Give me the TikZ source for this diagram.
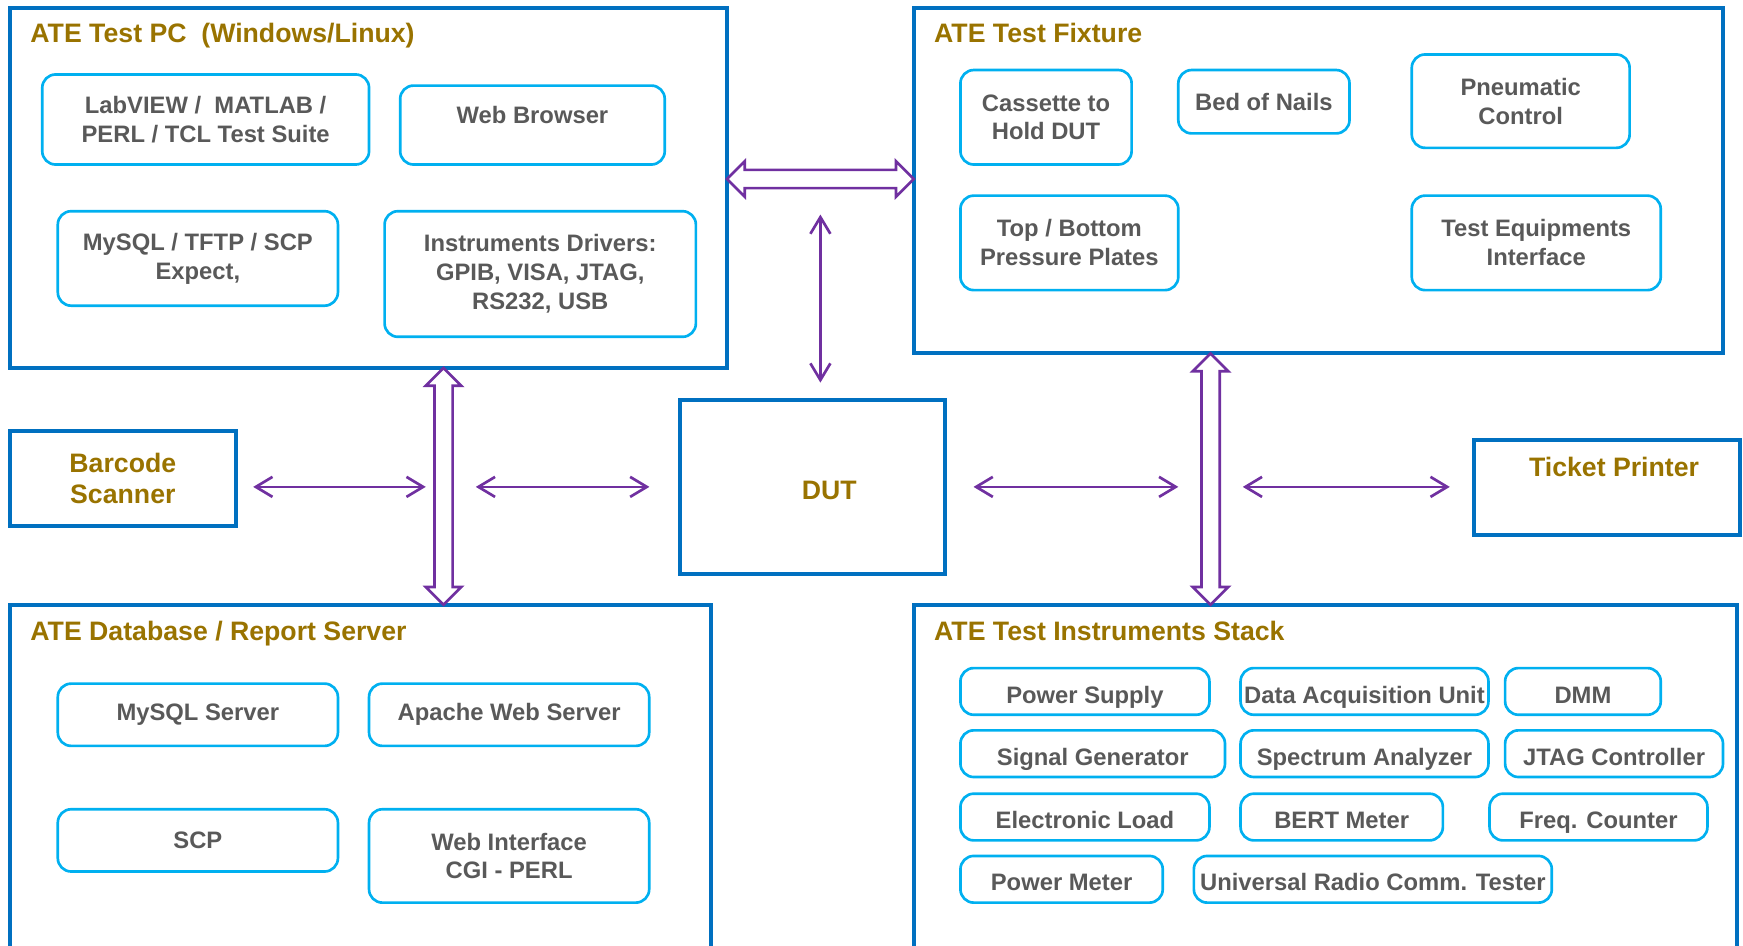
\documentclass[tikz,border=0pt]{standalone}
\usepackage{fontspec}
\setmainfont{Liberation Sans}
\usetikzlibrary{arrows.meta, shapes.arrows, fit}

\definecolor{boxblue}{HTML}{0070C0}
\definecolor{subcyan}{HTML}{00B0F0}
\definecolor{titlegold}{HTML}{997300}
\definecolor{textgray}{HTML}{595959}
\definecolor{arrowpurple}{HTML}{7030A0}

\begin{document}
\begin{tikzpicture}[x=0.5pt, y=-0.5pt,
    outer/.style={draw=boxblue, line width=1.8pt, inner sep=0pt},
    sub/.style={draw=subcyan, line width=1.2pt, rounded corners=6pt, inner sep=0pt, align=center, text=textgray, font=\fontsize{10.7}{13}\selectfont\bfseries},
    rowbox/.style={sub, minimum height=21pt, text height=10.5pt, text depth=0pt},
    subtext/.style={text=textgray, font=\fontsize{10.7}{13}\selectfont\bfseries, inner sep=0pt},
    heading/.style={text=titlegold, font=\fontsize{12}{14}\selectfont\bfseries, inner sep=0pt, align=center},
    title/.style={heading, anchor=base west},
    bus/.style={double arrow, draw=arrowpurple, line width=1.2pt, inner sep=3.5pt, double arrow head extend=3.9pt, minimum width=0pt},
    link/.style={draw=arrowpurple, line width=1.2pt, <->},
    >={Straight Barb[length=7.5pt, width=9pt]}]
    \useasboundingbox (0,0) rectangle (1568,851);
    \clip (0,0) rectangle (1568,851);

    % test PC
    \node[outer, fit={(9,7) (654,331)}] (pc) {};
    \node[title] (pctitle) at (27,38.5) {ATE Test PC~ (Windows/Linux)};
    \node[sub, minimum width=147pt, minimum height=40.5pt] (suite) at (185,107.5) {LabVIEW /~ MATLAB /\\PERL / TCL Test Suite};
    \node[sub, minimum width=119pt, minimum height=35.5pt, label={[subtext, anchor=north, yshift=-9.5pt]north:Web Browser}] (browser) at (479,112.5) {};
    \node[sub, minimum width=126pt, minimum height=42.5pt] (tools) at (178,232.5) {MySQL / TFTP / SCP\\Expect,};
    \node[sub, minimum width=140pt, minimum height=56.5pt] (drivers) at (486,246.5) {Instruments Drivers:\\GPIB, VISA, JTAG,\\RS232, USB};

    % test fixture
    \node[outer, fit={(822,7) (1550,318)}] (fixture) {};
    \node[title] (fixtitle) at (840,38.5) {ATE Test Fixture};
    \node[sub, minimum width=77pt, minimum height=42.5pt] (cassette) at (941,105.5) {Cassette to\\Hold DUT};
    \node[sub, minimum width=77pt, minimum height=28.5pt] (nails) at (1137,91.5) {Bed of Nails};
    \node[sub, minimum width=98pt, minimum height=42pt] (pneumatic) at (1368,91) {Pneumatic\\Control};
    \node[sub, minimum width=98pt, minimum height=42.5pt] (plates) at (962,218.5) {Top / Bottom\\Pressure Plates};
    \node[sub, minimum width=112pt, minimum height=42.5pt] (equip) at (1382,218.5) {Test Equipments\\Interface};

    % database / report server
    \node[outer, fit={(9,544) (640,870)}] (db) {};
    \node[title] (dbtitle) at (27,576.5) {ATE Database / Report Server};
    \node[sub, minimum width=126pt, minimum height=28pt] (mysql) at (178,643) {MySQL Server};
    \node[sub, minimum width=126pt, minimum height=28pt] (apache) at (458,643) {Apache Web Server};
    \node[sub, minimum width=126pt, minimum height=28pt] (scp) at (178,756) {SCP};
    \node[sub, minimum width=126pt, minimum height=42pt] (cgi) at (458,770) {Web Interface\\CGI - PERL};

    % instruments stack
    \node[outer, fit={(822,544) (1563,870)}] (stack) {};
    \node[title] (stacktitle) at (840,576.5) {ATE Test Instruments Stack};
    \foreach \xa/\xb/\ya/\name/\txt in {864/1088/601/psu/Power Supply, 1116/1339/601/daq/Data Acquisition Unit, 1354/1494/601/dmm/DMM,
        864/1102/657/siggen/Signal Generator, 1116/1339/657/spectrum/Spectrum Analyzer, 1354/1550/657/jtag/JTAG Controller,
        864/1088/714/eload/Electronic Load, 1116/1298/714/bert/BERT Meter, 1340/1536/714/counter/Freq. Counter,
        864/1046/770/powermeter/Power Meter, 1074/1396/770/radio/Universal Radio Comm. Tester}
    \node[rowbox, minimum width={(\xb-\xa)*0.5pt}] (\name) at ({(\xa+\xb)/2},\ya+21) {\txt};

    % single units
    \node[outer, heading, minimum width=101.5pt, minimum height=42.5pt] (barcode) at (110.5,430.5) {Barcode\\Scanner};
    \node[outer, fit={(612,360) (850,516)}, label={[heading, xshift=7.5pt, yshift=-1.5pt]center:DUT}] (dut) {};
    \node[outer, fit={(1326,396) (1565,481)}, label={[heading, anchor=north, xshift=3.25pt, yshift=-8.5pt]north:Ticket Printer}] (ticket) {};

    % buses
    \node[bus, minimum height=84pt] (pcbus) at (738,161) {};
    \node[bus, shape border rotate=90, minimum height=106.5pt] (dbbus) at (399,437.5) {};
    \node[bus, shape border rotate=90, minimum height=113pt] (stackbus) at (1089,431) {};

    % links
    \draw[link, shorten <=16pt, shorten >=7pt] (pcbus.center) -- (pcbus.center |- dut.north);
    \draw[link, shorten <=7pt, shorten >=8pt] (barcode.east |- dut.center) -- (dbbus.center |- dut.center);
    \draw[link, shorten <=14.5pt, shorten >=13pt] (dbbus.center |- dut.center) -- (dut.west);
    \draw[link, shorten <=12pt, shorten >=14.5pt] (dut.east) -- (stackbus.center |- dut.center);
    \draw[link, shorten <=14.5pt, shorten >=10pt] (stackbus.center |- dut.center) -- (ticket.west |- dut.center);
\end{tikzpicture}
\end{document}
